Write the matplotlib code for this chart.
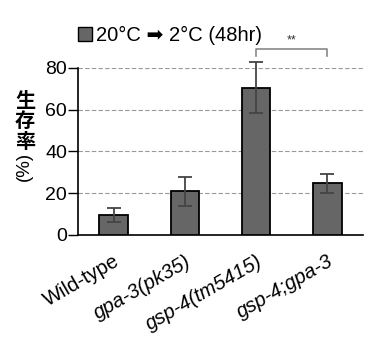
import numpy as np
import matplotlib.pyplot as plt

plt.rcParams['font.family'] = ['Liberation Sans', 'DejaVu Sans']

# データ
strains = ["Wild-type", "gpa-3(pk35)", "gsp-4(tm5415)", "gsp-4;gpa-3"]
italic = [False, True, True, True]
survival = [9.5, 21.0, 70.5, 24.7]
sem = [3.2, 7.0, 12.3, 4.6]
yticks = [0, 20, 40, 60, 80]

fig = plt.figure(figsize=(3.9, 3.4), dpi=100)
ax = fig.add_axes([0.2, 0.309, 0.731, 0.491])

x = np.arange(len(strains))
ax.bar(x, survival, width=0.4, color="#666666", edgecolor="black", linewidth=1.3, zorder=3)
ax.errorbar(x, survival, yerr=sem, fmt="none", ecolor="#444444", elinewidth=1.3,
            capsize=5, capthick=1.3, zorder=4, clip_on=False)

ax.set_xlim(-0.5, 3.5)
ax.set_ylim(0, 80)
ax.set_yticks(yticks)
ax.set_yticklabels([str(v) for v in yticks], fontsize=14)
for v in yticks[1:]:
    ax.axhline(v, color="#999999", linestyle=(0, (4, 2)), linewidth=0.8, zorder=1)

ax.set_xticks(x)
ax.set_xticklabels(strains, fontsize=14.5, rotation=30, ha="right", rotation_mode="anchor")
for lab, it in zip(ax.get_xticklabels(), italic):
    if it:
        lab.set_style("italic")
ax.tick_params(axis="x", length=0, pad=12)
ax.tick_params(axis="y", length=7, width=1, pad=1)

for s in ["top", "right"]:
    ax.spines[s].set_visible(False)
ax.spines["left"].set_linewidth(1.2)
ax.spines["bottom"].set_linewidth(1.2)

# 有意差
y0, y1 = 85.6, 89
ax.plot([2, 2, 3, 3], [y0, y1, y1, y0], color="#888888", lw=1.2, clip_on=False)
ax.text(2.5, 90.5, "**", ha="center", va="bottom", fontsize=9, color="#333333")

# 凡例
fig.patches.append(plt.Rectangle((78 / 390, 1 - 41 / 340), 14 / 390, 14 / 340,
                                 transform=fig.transFigure, facecolor="#666666",
                                 edgecolor="black", linewidth=1))
fig.text(96 / 390, 1 - 35 / 340, "20°C ➡ 2°C (48hr)", fontsize=14.5,
         ha="left", va="center")

# 縦軸ラベル (縦書き)
for ch, yp in zip("生存率", [100, 120.5, 141]):
    fig.text(25 / 390, 1 - yp / 340, ch, fontsize=14.5, ha="center", va="center",
             weight="bold", family=['Noto Sans CJK JP', 'DejaVu Sans'])
fig.text(24 / 390, 1 - 166 / 340, "(%)", fontsize=13.5, ha="center", va="center",
         rotation=90)

fig.savefig("out.png", dpi=100)
